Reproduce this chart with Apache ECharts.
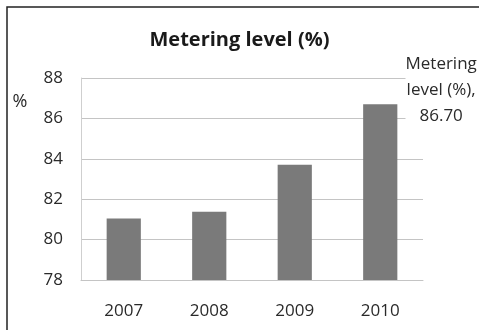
<!DOCTYPE html>
<html>
<head>
<meta charset="utf-8">
<script src="https://cdn.jsdelivr.net/npm/echarts@6/dist/echarts.min.js"></script>
<style>
  html, body { margin: 0; padding: 0; background: #fff; }
  #chart { width: 479px; height: 330px; }
</style>
</head>
<body>
<div id="chart"></div>
<script>
// Metering level by year
const years = ['2007', '2008', '2009', '2010'];
const meteringLevel = [81.05, 81.38, 83.70, 86.70];
const yTicks = { min: 78, max: 88, step: 2 };
const chartTitle = 'Metering level (%)';
const seriesName = 'Metering level (%)';
const unitLabel = '%';
const labelledYear = '2010';

const FONT = '"Open Sans", "Noto Sans", sans-serif';
const TEXT = '#2a2a2a';
const chart = echarts.init(document.getElementById('chart'), null, { renderer: 'canvas' });

const barData = meteringLevel.map((v, i) => {
  const item = { value: v };
  if (years[i] === labelledYear) {
    item.label = {
      show: true,
      position: [78, -14],
      align: 'center',
      verticalAlign: 'middle',
      lineHeight: 26,
      fontFamily: FONT,
      fontSize: 17,
      color: TEXT,
      backgroundColor: '#fff',
      formatter: (p) => 'Metering\nlevel (%),\n' + p.value.toFixed(2)
    };
  }
  return item;
});

chart.setOption({
  animation: false,
  backgroundColor: '#fff',
  title: {
    text: chartTitle,
    left: 'center',
    top: 25,
    textStyle: { fontFamily: FONT, fontSize: 20, fontWeight: 'bold', color: '#1a1a1a' }
  },
  grid: { left: 81, right: 56, top: 78, bottom: 50 },
  xAxis: {
    type: 'category',
    data: years,
    axisLine: { show: true, lineStyle: { color: '#c4c4c4', width: 1 } },
    axisTick: { show: false },
    axisLabel: { margin: 23, fontFamily: FONT, fontSize: 17, color: TEXT }
  },
  yAxis: {
    type: 'value',
    min: yTicks.min,
    max: yTicks.max,
    interval: yTicks.step,
    axisLine: { show: true, lineStyle: { color: '#cfcfcf', width: 1 } },
    axisTick: { show: false },
    splitLine: { lineStyle: { color: '#c4c4c4', width: 1 } },
    axisLabel: { margin: 18, fontFamily: FONT, fontSize: 17, color: TEXT }
  },
  series: [{
    name: seriesName,
    type: 'bar',
    data: barData,
    barWidth: '40%',
    itemStyle: { color: '#7a7a7a' },
    z: 3
  }],
  graphic: [
    {
      type: 'rect',
      shape: { x: 7, y: 7, width: 490, height: 340 },
      style: { fill: 'none', stroke: '#222', lineWidth: 1.5 },
      silent: true
    },
    {
      type: 'text',
      x: 20,
      y: 102,
      style: {
        text: unitLabel,
        fontFamily: FONT,
        fontSize: 18,
        fill: TEXT,
        align: 'center',
        verticalAlign: 'middle'
      }
    }
  ]
});
</script>
</body>
</html>
